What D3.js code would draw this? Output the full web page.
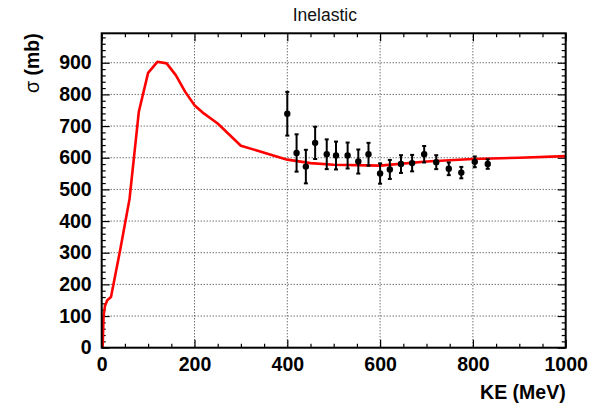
<!DOCTYPE html>
<html>
<head>
<meta charset="utf-8">
<script src="https://cdn.jsdelivr.net/npm/d3@7"></script>
<style>
  html, body { margin: 0; padding: 0; background: #fff; }
  svg { display: block; }
  .tick line { stroke: #000; }
  .domain { display: none; }
</style>
</head>
<body>
<div id="chart"></div>
<script>
// ---- data ----
const curveE  = [2, 4, 7, 12, 20, 40, 60, 80, 100, 120, 140, 160, 180, 200, 220, 250, 300, 400, 450, 500, 600, 700, 800, 900, 1000];
const curveXS = [0, 100, 132, 150, 160, 310, 470, 745, 868, 903, 898, 860, 808, 766, 740, 708, 638, 594, 583, 578, 575, 588, 596, 600, 605];

const dataE   = [400, 420, 440, 460, 485, 505, 530, 553, 575, 600, 621, 645, 669, 695, 721, 748, 775, 804, 832];
const dataXS  = [739, 615, 572, 647, 611, 607, 607, 588, 611, 550, 563, 580, 583, 611, 586, 565, 553, 587, 580];
const dataErr = [69, 59, 53, 51, 47, 44, 41, 38, 36, 32, 30, 28, 26, 26, 22, 20, 18, 17, 15];

const xMajor = [0, 200, 400, 600, 800, 1000];
const yMajor = [0, 100, 200, 300, 400, 500, 600, 700, 800, 900];
const xGrid  = [200, 400, 600, 800];
const yGrid  = [100, 200, 300, 400, 500, 600, 700, 800, 900];

const titleText = "Inelastic";
const xTitle = "KE (MeV)";
const yTitleSym = "σ";
const yTitleRest = " (mb)";

// ---- layout ----
const W = 613, H = 409;
const L = 101.7, R = 565.7, T = 33.3, B = 347.7;
const font = "'Liberation Sans', Arial, Helvetica, sans-serif";

const x = d3.scaleLinear().domain([0, 1000]).range([L, R]);
const y = d3.scaleLinear().domain([0, 993]).range([B, T]);

const xMinor = d3.range(0, 1001, 50).filter(v => !xMajor.includes(v));
const yMinor = d3.range(0, 993, 20).filter(v => !yMajor.includes(v));

const svg = d3.select("#chart").append("svg")
  .attr("width", W).attr("height", H)
  .style("font-family", font);

// grid
const grid = svg.append("g");
grid.selectAll("line.gx").data(xGrid).enter().append("line")
  .attr("x1", d => x(d)).attr("x2", d => x(d))
  .attr("y1", T).attr("y2", B)
  .attr("stroke", "#333").attr("stroke-width", 1).attr("stroke-dasharray", "1,2");
grid.selectAll("line.gy").data(yGrid).enter().append("line")
  .attr("x1", L).attr("x2", R)
  .attr("y1", d => y(d)).attr("y2", d => y(d))
  .attr("stroke", "#333").attr("stroke-width", 1).attr("stroke-dasharray", "1,2");

// axes
function styleAxis(g) {
  g.selectAll(".tick line").attr("stroke", "#000").attr("stroke-width", 1.2);
  g.selectAll(".tick text")
    .attr("fill", "#000")
    .style("font-family", font)
    .style("font-weight", "bold")
    .style("font-size", "19.5px");
}

svg.append("g").attr("transform", `translate(0,${B})`)
  .call(d3.axisBottom(x).tickValues(xMajor).tickSizeInner(-8).tickSizeOuter(0).tickPadding(9.3).tickFormat(d3.format("d")))
  .call(styleAxis);
svg.append("g").attr("transform", `translate(0,${B})`)
  .call(d3.axisBottom(x).tickValues(xMinor).tickSizeInner(-4).tickSizeOuter(0).tickFormat(""))
  .call(styleAxis);
svg.append("g").attr("transform", `translate(0,${T})`)
  .call(d3.axisTop(x).tickValues(xMajor).tickSizeInner(-8).tickSizeOuter(0).tickFormat(""))
  .call(styleAxis);
svg.append("g").attr("transform", `translate(0,${T})`)
  .call(d3.axisTop(x).tickValues(xMinor).tickSizeInner(-4).tickSizeOuter(0).tickFormat(""))
  .call(styleAxis);

svg.append("g").attr("transform", `translate(${L},0)`)
  .call(d3.axisLeft(y).tickValues(yMajor).tickSizeInner(-8).tickSizeOuter(0).tickPadding(10).tickFormat(d3.format("d")))
  .call(styleAxis);
svg.append("g").attr("transform", `translate(${L},0)`)
  .call(d3.axisLeft(y).tickValues(yMinor).tickSizeInner(-4).tickSizeOuter(0).tickFormat(""))
  .call(styleAxis);
svg.append("g").attr("transform", `translate(${R},0)`)
  .call(d3.axisRight(y).tickValues(yMajor).tickSizeInner(-8).tickSizeOuter(0).tickFormat(""))
  .call(styleAxis);
svg.append("g").attr("transform", `translate(${R},0)`)
  .call(d3.axisRight(y).tickValues(yMinor).tickSizeInner(-4).tickSizeOuter(0).tickFormat(""))
  .call(styleAxis);

// curve
const curvePts = curveE.map((e, i) => [e, curveXS[i]]);
svg.append("path")
  .datum(curvePts)
  .attr("d", d3.line().x(d => x(d[0])).y(d => y(d[1])))
  .attr("fill", "none")
  .attr("stroke", "#ff0000")
  .attr("stroke-width", 2.6)
  .attr("stroke-linejoin", "round");

// data points
const pts = dataE.map((e, i) => ({ e, v: dataXS[i], err: dataErr[i] }));
const pg = svg.append("g");
pg.selectAll("line.eb").data(pts).enter().append("line")
  .attr("x1", d => x(d.e)).attr("x2", d => x(d.e))
  .attr("y1", d => y(d.v + d.err)).attr("y2", d => y(d.v - d.err))
  .attr("stroke", "#000").attr("stroke-width", 2);
pg.selectAll("line.capt").data(pts).enter().append("line")
  .attr("x1", d => x(d.e) - 2).attr("x2", d => x(d.e) + 2)
  .attr("y1", d => y(d.v + d.err)).attr("y2", d => y(d.v + d.err))
  .attr("stroke", "#000").attr("stroke-width", 2);
pg.selectAll("line.capb").data(pts).enter().append("line")
  .attr("x1", d => x(d.e) - 2).attr("x2", d => x(d.e) + 2)
  .attr("y1", d => y(d.v - d.err)).attr("y2", d => y(d.v - d.err))
  .attr("stroke", "#000").attr("stroke-width", 2);
pg.selectAll("circle").data(pts).enter().append("circle")
  .attr("cx", d => x(d.e)).attr("cy", d => y(d.v)).attr("r", 3.2)
  .attr("fill", "#000");

// frame
svg.append("rect")
  .attr("x", L).attr("y", T).attr("width", R - L).attr("height", B - T)
  .attr("fill", "none").attr("stroke", "#000").attr("stroke-width", 2);

// titles
svg.append("text")
  .attr("x", 324.8).attr("y", 20.7)
  .attr("text-anchor", "middle")
  .style("font-size", "17.5px")
  .attr("fill", "#111")
  .text(titleText);

svg.append("text")
  .attr("x", R).attr("y", 399)
  .attr("text-anchor", "end")
  .style("font-size", "19.5px").style("font-weight", "bold")
  .text(xTitle);

const yt = svg.append("text")
  .attr("transform", `translate(39,${T}) rotate(-90)`)
  .attr("text-anchor", "end")
  .style("font-size", "19.5px").style("font-weight", "bold");
yt.append("tspan").style("font-weight", "normal").text(yTitleSym);
yt.append("tspan").text(yTitleRest);
</script>
</body>
</html>
